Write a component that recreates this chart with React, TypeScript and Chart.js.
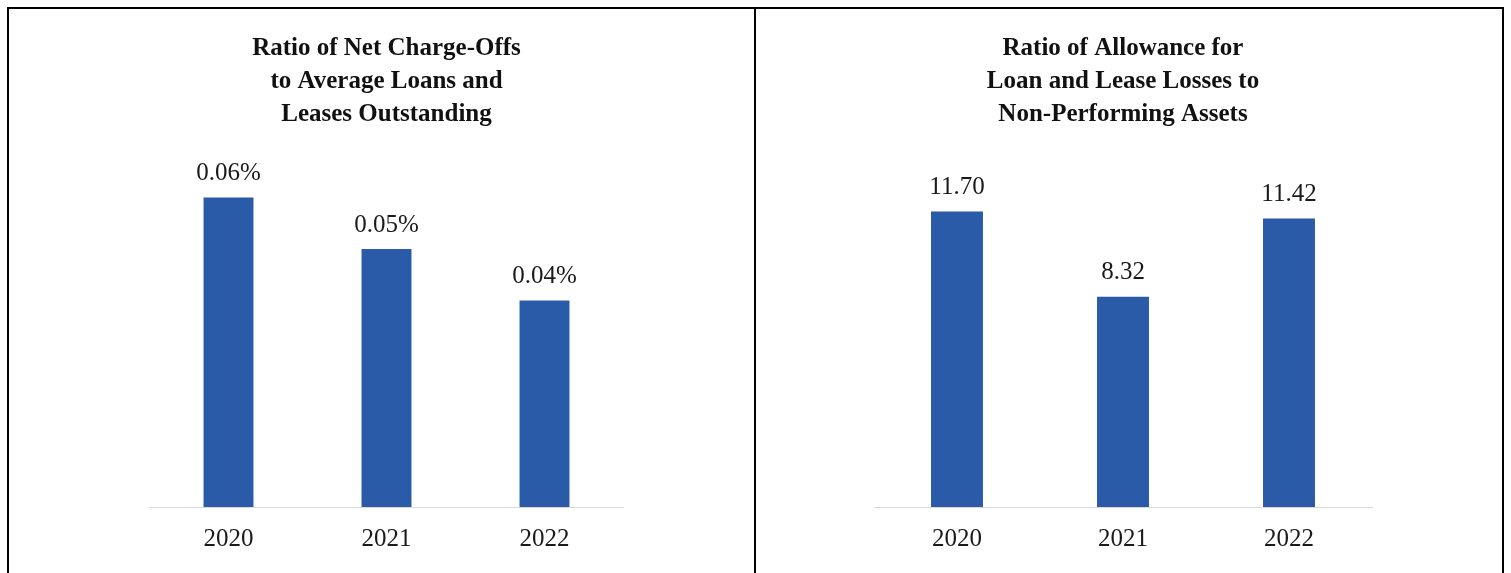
import React, { useEffect, useRef } from "react";
import { Chart, registerables } from "chart.js";

Chart.register(...registerables);

const years = ["2020", "2021", "2022"];
const chargeOffValues = [0.06, 0.05, 0.04];
const allowanceValues = [11.7, 8.32, 11.42];
const chargeOffTitle = ["Ratio of Net Charge-Offs", "to Average Loans and", "Leases Outstanding"];
const allowanceTitle = ["Ratio of Allowance for", "Loan and Lease Losses to", "Non-Performing Assets"];

const FONT = "'Liberation Serif', 'Times New Roman', serif";
const BAR_COLOR = "#2A5BA8";

type PanelProps = {
  labels: string[];
  values: number[];
  title: string[];
  yMax: number;
  barPct: number;
  padLeft: number;
  padRight: number;
  width: number;
  height: number;
  fmt: (v: number) => string;
};

function BarPanel(props: PanelProps) {
  const ref = useRef<HTMLCanvasElement | null>(null);
  useEffect(() => {
    if (!ref.current) return;
    const valueLabels = {
      id: "valueLabels",
      afterDatasetsDraw(chart: any) {
        const ctx = chart.ctx;
        const meta = chart.getDatasetMeta(0);
        ctx.save();
        ctx.font = `25px ${FONT}`;
        ctx.fillStyle = "#1a1a1a";
        ctx.textAlign = "center";
        ctx.textBaseline = "middle";
        meta.data.forEach((el: any, i: number) => {
          ctx.fillText(props.fmt(props.values[i]), el.x, el.y - 24);
        });
        ctx.restore();
      },
    };
    const chart = new Chart(ref.current, {
      type: "bar",
      data: {
        labels: props.labels,
        datasets: [
          {
            data: props.values,
            backgroundColor: BAR_COLOR,
            borderWidth: 0,
            categoryPercentage: 1,
            barPercentage: props.barPct,
          },
        ],
      },
      options: {
        animation: false,
        responsive: false,
        devicePixelRatio: 1,
        layout: {
          padding: { left: props.padLeft, right: props.padRight, top: 0, bottom: 2 },
        },
        plugins: {
          legend: { display: false },
          tooltip: { enabled: false },
          title: {
            display: true,
            text: props.title,
            color: "#111",
            font: { family: FONT, size: 25, weight: "bold", lineHeight: 1.32 },
            padding: { top: 23.5, bottom: 14.3 },
          },
        },
        scales: {
          x: {
            grid: { display: false, drawTicks: false },
            border: { display: true, color: "#d9d9d9", width: 1 },
            ticks: {
              padding: 17,
              color: "#1a1a1a",
              font: { family: FONT, size: 25 },
            },
          },
          y: {
            display: false,
            min: 0,
            max: props.yMax,
          },
        },
      },
      plugins: [valueLabels],
    });
    return () => chart.destroy();
  }, []);
  return (
    <canvas
      ref={ref}
      width={props.width}
      height={props.height}
      style={{ width: props.width, height: props.height, display: "block" }}
    />
  );
}

export default function App() {
  return (
    <div
      style={{
        position: "fixed",
        left: 0,
        top: 0,
        width: 1511,
        height: 573,
        overflow: "hidden",
        background: "#fff",
      }}
    >
      <div
        style={{
          position: "absolute",
          left: 7,
          top: 7,
          width: 1497,
          height: 640,
          border: "2px solid #000",
          boxSizing: "border-box",
        }}
      />
      <div style={{ position: "absolute", left: 754, top: 7, width: 2, height: 640, background: "#000" }} />
      <div style={{ position: "absolute", left: 9, top: 9 }}>
        <BarPanel
          labels={years}
          values={chargeOffValues}
          title={chargeOffTitle}
          yMax={0.07}
          barPct={0.316}
          padLeft={140.5}
          padRight={130.5}
          width={745}
          height={564}
          fmt={(v) => v.toFixed(2) + "%"}
        />
      </div>
      <div style={{ position: "absolute", left: 756, top: 9 }}>
        <BarPanel
          labels={years}
          values={allowanceValues}
          title={allowanceTitle}
          yMax={14.3}
          barPct={0.313}
          padLeft={118}
          padRight={130}
          width={746}
          height={564}
          fmt={(v) => v.toFixed(2)}
        />
      </div>
    </div>
  );
}
